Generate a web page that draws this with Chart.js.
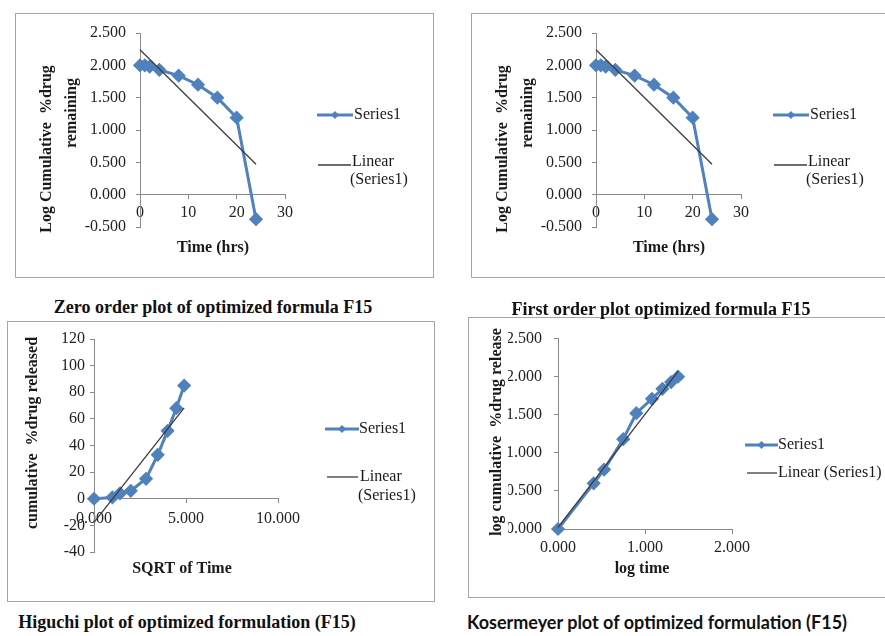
<!DOCTYPE html>
<html>
<head>
<meta charset="utf-8">
<script src="https://cdn.jsdelivr.net/npm/chart.js@4.4.0/dist/chart.umd.min.js"></script>
<style>
  body { margin: 0; width: 885px; height: 636px; overflow: hidden; background: #fff; position: relative; font-family: "Liberation Serif", serif; }
  .box { position: absolute; border: 1px solid #a6a6a6; box-sizing: border-box; }
  canvas { position: absolute; }
  .cap { position: absolute; font-weight: bold; white-space: nowrap; color: #111; transform: translate(-50%, -50%); }
</style>
</head>
<body>
<div class="box" style="left:15px;top:13px;width:419px;height:265px"></div>
<canvas id="zero" width="419" height="265" style="left:15px;top:13px"></canvas>

<div class="box" style="left:471px;top:13px;width:419px;height:265px"></div>
<canvas id="first" width="419" height="265" style="left:471px;top:13px"></canvas>

<div class="box" style="left:7px;top:321px;width:428px;height:281px"></div>
<canvas id="higuchi" width="428" height="281" style="left:7px;top:321px"></canvas>

<div class="box" style="left:468px;top:317px;width:422px;height:281px"></div>
<canvas id="korsmeyer" width="422" height="281" style="left:468px;top:317px"></canvas>

<div class="cap" style="left:213px;top:307px;font-size:18px">Zero order plot of optimized formula F15</div>
<div class="cap" style="left:661px;top:309px;font-size:18px">First order plot optimized formula F15</div>
<div class="cap" style="left:187px;top:622px;font-size:18px">Higuchi plot of optimized formulation (F15)</div>
<div class="cap" style="left:657px;top:622px;font-size:18px;font-family:Lato, 'Open Sans', sans-serif">Kosermeyer plot of optimized formulation (F15)</div>

<script>
// zero order and first order pictures show the same curve
const timeHrs = [0, 1, 2, 4, 8, 12, 16, 20, 24];
const logRemaining = [2.00, 2.00, 1.98, 1.93, 1.84, 1.70, 1.50, 1.19, -0.38];
const logRemainingFitX = [0, 24];
const logRemainingFitY = [2.24, 0.47];

// higuchi
const sqrtTime = [0, 1, 1.414, 2, 2.828, 3.464, 4, 4.472, 4.899];
const cumReleased = [0, 1, 4, 6, 15, 33, 51, 68, 85];
const cumReleasedFitX = [0, 4.899];
const cumReleasedFitY = [-17.7, 68.3];

// korsmeyer
const logTime = [0, 0.41, 0.53, 0.75, 0.90, 1.08, 1.20, 1.30, 1.38];
const logReleased = [0, 0.60, 0.78, 1.18, 1.52, 1.71, 1.84, 1.93, 2.00];
const logReleasedFitX = [0, 1.38];
const logReleasedFitY = [0.02, 2.07];

const BLUE = '#4f81bd';
const AXIS = '#8a8a8a';

Chart.defaults.font.family = '"Liberation Serif", serif';
Chart.defaults.font.size = 16;
Chart.defaults.color = '#222';

const toPoints = (xs, ys) => xs.map((x, i) => ({ x: x, y: ys[i] }));

// draws axis titles and the excel style legend
const extraText = {
    id: 'extraText',
    afterDraw(chart, args, opts) {
        const ctx = chart.ctx;
        (opts.legend || []).forEach(l => {
            const ds = chart.data.datasets[l.ds];
            ctx.save();
            ctx.strokeStyle = ds.borderColor;
            ctx.lineWidth = ds.borderWidth;
            ctx.beginPath();
            ctx.moveTo(l.x0, l.y);
            ctx.lineTo(l.x1, l.y);
            ctx.stroke();
            if (ds.pointRadius) {
                const cx = (l.x0 + l.x1) / 2, r = 4;
                ctx.fillStyle = ds.borderColor;
                ctx.beginPath();
                ctx.moveTo(cx, l.y - r);
                ctx.lineTo(cx + r, l.y);
                ctx.lineTo(cx, l.y + r);
                ctx.lineTo(cx - r, l.y);
                ctx.closePath();
                ctx.fill();
            }
            ctx.restore();
        });
        (opts.texts || []).forEach(t => {
            ctx.save();
            ctx.translate(t.x, t.y);
            if (t.rot) ctx.rotate(t.rot * Math.PI / 180);
            ctx.font = t.font || 'bold 16px "Liberation Serif"';
            ctx.fillStyle = '#1a1a1a';
            ctx.textAlign = t.align || 'center';
            ctx.textBaseline = 'middle';
            ctx.fillText(t.text, 0, 0);
            ctx.restore();
        });
    }
};

const makeChart = (id, c) => {
    return new Chart(document.getElementById(id), {
        type: 'line',
        data: {
            datasets: [{
                label: 'Linear (Series1)',
                data: toPoints(c.fitX, c.fitY),
                borderColor: '#3c3c3c',
                borderWidth: 1.3,
                pointRadius: 0,
                order: 0,
                clip: false
            }, {
                label: 'Series1',
                data: toPoints(c.xs, c.ys),
                borderColor: BLUE,
                backgroundColor: BLUE,
                borderWidth: 3,
                pointStyle: 'rectRot',
                pointRadius: 5,
                pointBackgroundColor: BLUE,
                pointBorderColor: BLUE,
                order: 1,
                clip: false
            }]
        },
        options: {
            responsive: false,
            animation: false,
            devicePixelRatio: 1,
            layout: { padding: c.padding },
            scales: {
                x: {
                    type: 'linear',
                    position: { y: 0 },
                    min: c.xRange[0], max: c.xRange[1],
                    grid: { drawOnChartArea: false, tickLength: 4, color: AXIS },
                    border: { color: AXIS },
                    ticks: { stepSize: c.xRange[2], padding: c.xPad, maxRotation: 0, callback: v => v.toFixed(c.xDigits) }
                },
                y: {
                    type: 'linear',
                    min: c.yRange[0], max: c.yRange[1],
                    afterFit: s => { s.width = c.yWidth; },
                    grid: { drawOnChartArea: false, tickLength: 4, color: AXIS },
                    border: { color: AXIS },
                    ticks: { stepSize: c.yRange[2], padding: c.yPad, callback: v => v.toFixed(c.yDigits) }
                }
            },
            plugins: {
                legend: { display: false },
                tooltip: { enabled: false },
                extraText: { texts: c.texts, legend: c.legend }
            }
        },
        plugins: [extraText]
    });
};

const seriesText = (x, y) => ({ text: 'Series1', x: x, y: y, align: 'left', font: '16px "Liberation Serif"' });
const plainText = (t, x, y) => ({ text: t, x: x, y: y, align: 'left', font: '16px "Liberation Serif"' });

const orderPlot = {
    xs: timeHrs, ys: logRemaining, fitX: logRemainingFitX, fitY: logRemainingFitY,
    xRange: [0, 30, 10], xDigits: 0, yRange: [-0.5, 2.5, 0.5], yDigits: 3,
    padding: { left: 65, top: 20, right: 149, bottom: 51 }, yWidth: 60, xPad: 5, yPad: 10,
    texts: [
        { text: 'Log Cumulative  %drug', x: 32, y: 136, rot: -90 },
        { text: 'remaining', x: 57, y: 100, rot: -90 },
        { text: 'Time (hrs)', x: 198, y: 235 },
        seriesText(339, 102),
        plainText('Linear', 337, 149),
        plainText('(Series1)', 335, 167)
    ],
    legend: [
        { ds: 1, x0: 302, x1: 338, y: 102 },
        { ds: 0, x0: 303, x1: 336, y: 152 }
    ]
};

makeChart('zero', orderPlot);
makeChart('first', orderPlot);

makeChart('higuchi', {
    xs: sqrtTime, ys: cumReleased, fitX: cumReleasedFitX, fitY: cumReleasedFitY,
    xRange: [0, 10, 5], xDigits: 3, yRange: [-40, 120, 20], yDigits: 0,
    padding: { left: 37, top: 18, right: 157, bottom: 50 }, yWidth: 50, xPad: 6, yPad: 5,
    texts: [
        { text: 'cumulative  %drug released', x: 26, y: 112, rot: -90 },
        { text: 'SQRT of Time', x: 175, y: 248 },
        seriesText(352, 108),
        plainText('Linear', 353, 156),
        plainText('(Series1)', 351, 175)
    ],
    legend: [
        { ds: 1, x0: 318, x1: 352, y: 108 },
        { ds: 0, x0: 320, x1: 351, y: 156 }
    ]
});

makeChart('korsmeyer', {
    xs: logTime, ys: logReleased, fitX: logReleasedFitX, fitY: logReleasedFitY,
    xRange: [0, 2, 1], xDigits: 3, yRange: [0, 2.5, 0.5], yDigits: 3,
    padding: { left: 40, top: 18, right: 158, bottom: 69 }, yWidth: 50, xPad: 5, yPad: 12,
    texts: [
        { text: 'log cumulative  %drug release', x: 29, y: 115, rot: -90 },
        { text: 'log time', x: 174, y: 252 },
        seriesText(310, 128),
        plainText('Linear (Series1)', 310, 156)
    ],
    legend: [
        { ds: 1, x0: 277, x1: 310, y: 128 },
        { ds: 0, x0: 279, x1: 309, y: 156 }
    ]
});
</script>
</body>
</html>
